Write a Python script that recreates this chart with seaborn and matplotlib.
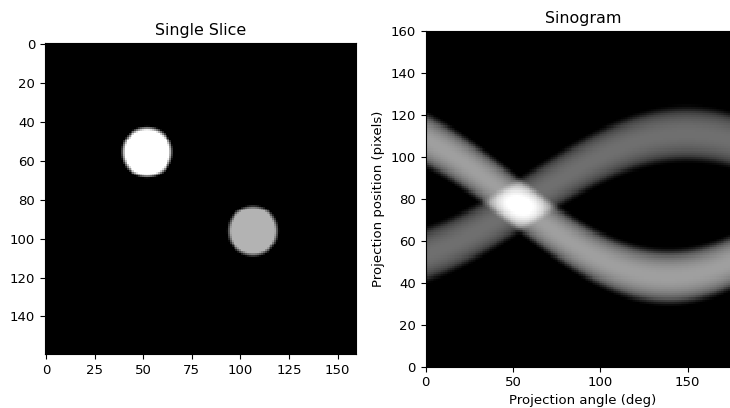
import numpy as np
import matplotlib
matplotlib.use("Agg")
import matplotlib.pyplot as plt
import seaborn as sns

# ---- data ----
image_size = 160                      # pixels per side of the slice
disc_x = [52.0, 106.5]                # disc centres (column, pixels)
disc_y = [55.5, 96.0]                 # disc centres (row, pixels)
disc_r = [12.5, 12.5]                 # disc radii (pixels)
disc_value = [1.0, 0.7]               # disc intensities
edge_width = 2.2                      # soft edge width in the slice (pixels)
sino_edge_width = 3.5                 # soft edge width in the sinogram (pixels)
n_angles = 180                        # projection angles 0..179 deg
sino_vmax_scale = 1.6                 # display max relative to one disc chord

slice_xticks = [0, 25, 50, 75, 100, 125, 150]
slice_yticks = [0, 20, 40, 60, 80, 100, 120, 140]
sino_xticks = [0, 50, 100, 150]
sino_yticks = [0, 20, 40, 60, 80, 100, 120, 140, 160]

# ---- build the slice ----
cols, rows = np.meshgrid(np.arange(image_size), np.arange(image_size))
slice_img = np.zeros((image_size, image_size))
for cx, cy, r, v in zip(disc_x, disc_y, disc_r, disc_value):
    d = np.hypot(cols - cx, rows - cy)
    slice_img += v * np.clip((r - d) / edge_width + 0.5, 0, 1)

# ---- sinogram (line integrals of the soft discs) ----
centre = image_size / 2.0
angles = np.arange(n_angles)
positions = np.arange(image_size) + 0.5
du = 0.05
u = np.arange(-25, 25, du)
sino = np.zeros((image_size, n_angles))
th = np.deg2rad(angles)
for cx, cy, r, v in zip(disc_x, disc_y, disc_r, disc_value):
    pc = centre - (cx - centre) * np.cos(th) + (cy - centre) * np.sin(th)
    t = positions[:, None] - pc[None, :]
    d = np.sqrt(t[:, :, None] ** 2 + u[None, None, :] ** 2)
    prof = np.clip((r - d) / sino_edge_width + 0.5, 0, 1).sum(axis=2) * du
    sino += v * prof
vmax = sino_vmax_scale * 2 * disc_r[0]

# ---- figure ----
plt.rcParams["font.size"] = 9.5
fig = plt.figure(figsize=(7.3, 4.08), dpi=100)
ax1 = fig.add_axes([45 / 730, (408 - 354.3) / 408, 311 / 730, 311 / 408])
ax2 = fig.add_axes([425.7 / 730, (408 - 366.7) / 408, (740 - 425.7) / 730, (366.7 - 31) / 408])

sns.heatmap(slice_img, ax=ax1, cmap="gray", vmin=0, vmax=1, cbar=False,
            xticklabels=False, yticklabels=False)
ax1.set_xticks([v + 0.5 for v in slice_xticks])
ax1.set_xticklabels([str(v) for v in slice_xticks], rotation=0)
ax1.set_yticks([v + 0.5 for v in slice_yticks])
ax1.set_yticklabels([str(v) for v in slice_yticks], rotation=0)
ax1.set_title("Single Slice", fontsize=11.4)

sns.heatmap(sino, ax=ax2, cmap="gray", vmin=0, vmax=vmax, cbar=False,
            xticklabels=False, yticklabels=False)
ax2.invert_yaxis()
ax2.set_xticks(sino_xticks)
ax2.set_xticklabels([str(v) for v in sino_xticks], rotation=0)
ax2.set_yticks(sino_yticks)
ax2.set_yticklabels([str(v) for v in sino_yticks], rotation=0)
ax2.set_xlabel("Projection angle (deg)", fontsize=9.5, labelpad=3)
ax2.set_ylabel("Projection position (pixels)", fontsize=9.5, labelpad=4)
ax2.set_title("Sinogram", fontsize=11.4)

for ax in (ax1, ax2):
    ax.set_aspect("auto")
    for s in ax.spines.values():
        s.set_visible(True)
        s.set_color("black")
        s.set_linewidth(0.8)
    ax.tick_params(direction="out", length=3.5, width=0.8, labelsize=9.5,
                   colors="black", left=True, bottom=True)

fig.savefig("out.png", dpi=100)
